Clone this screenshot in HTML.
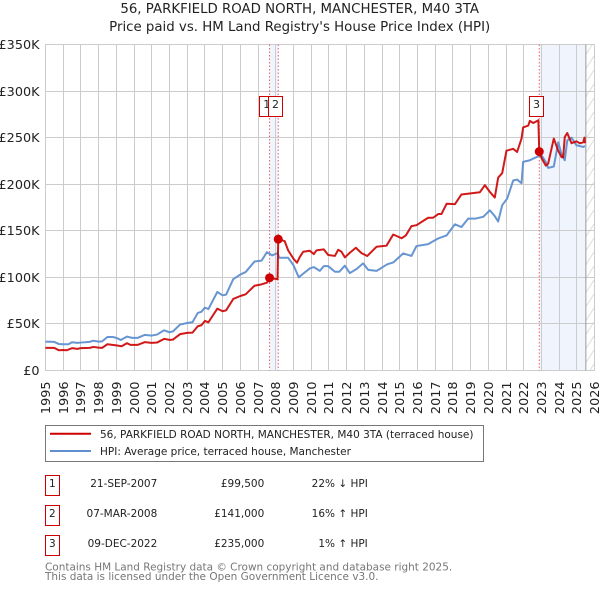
<!DOCTYPE html>
<html lang="en">
<head>
<meta charset="utf-8">
<title>56, Parkfield Road North price chart</title>
<style>
html,body{margin:0;padding:0;background:#fff;width:600px;height:590px;overflow:hidden}
svg{display:block}
text{font-family:"DejaVu Sans","Liberation Sans",sans-serif;fill:#222}
</style>
</head>
<body>
<svg id="chart" xmlns="http://www.w3.org/2000/svg" width="600" height="590" viewBox="0 0 600 590">
  <defs>
    <pattern id="hatch" patternUnits="userSpaceOnUse" width="9" height="14">
      <line x1="0" y1="14" x2="9" y2="0" stroke="#dcdcdc" stroke-width="1"/>
    </pattern>
  </defs>
  <text x="299.7" y="13" text-anchor="middle" font-size="13.33">56, PARKFIELD ROAD NORTH, MANCHESTER, M40 3TA</text>
  <text x="299.7" y="31" text-anchor="middle" font-size="13.33">Price paid vs. HM Land Registry's House Price Index (HPI)</text>
  <g id="plot"></g>

  <g>
    <rect x="45.5" y="425.5" width="438" height="36" fill="#fff" stroke="#777" stroke-width="1"/>
    <line x1="50" y1="433.7" x2="91" y2="433.7" stroke="#cc0000" stroke-width="2"/>
    <text x="100" y="438" font-size="10.5">56, PARKFIELD ROAD NORTH, MANCHESTER, M40 3TA (terraced house)</text>
    <line x1="50" y1="451" x2="91" y2="451" stroke="#5f8fd0" stroke-width="2"/>
    <text x="100" y="455" font-size="10.5">HPI: Average price, terraced house, Manchester</text>
  </g>

  <g font-size="10.5">
    <g>
      <rect x="45.5" y="475.5" width="14" height="20" fill="#fff" stroke="#cc0000"/>
      <text x="52.3" y="487" text-anchor="middle">1</text>
      <text x="157.3" y="487" text-anchor="end">21-SEP-2007</text>
      <text x="264.3" y="487" text-anchor="end">£99,500</text>
      <text x="367.8" y="487" text-anchor="end">22% ↓ HPI</text>
    </g>
    <g>
      <rect x="45.5" y="505.5" width="14" height="20" fill="#fff" stroke="#cc0000"/>
      <text x="52.3" y="517" text-anchor="middle">2</text>
      <text x="157.3" y="517" text-anchor="end">07-MAR-2008</text>
      <text x="264.3" y="517" text-anchor="end">£141,000</text>
      <text x="367.8" y="517" text-anchor="end">16% ↑ HPI</text>
    </g>
    <g>
      <rect x="45.5" y="535.5" width="14" height="20" fill="#fff" stroke="#cc0000"/>
      <text x="52.3" y="547" text-anchor="middle">3</text>
      <text x="157.3" y="547" text-anchor="end">09-DEC-2022</text>
      <text x="264.3" y="547" text-anchor="end">£235,000</text>
      <text x="367.8" y="547" text-anchor="end">1% ↑ HPI</text>
    </g>
  </g>

  <text x="45" y="570.5" font-size="10.48" style="fill:#777">Contains HM Land Registry data © Crown copyright and database right 2025.</text>
  <text x="45" y="580" font-size="10.48" style="fill:#777">This data is licensed under the Open Government Licence v3.0.</text>
</svg>
<script>
const yearTicks = [1995,1996,1997,1998,1999,2000,2001,2002,2003,2004,2005,2006,2007,2008,2009,2010,2011,2012,2013,2014,2015,2016,2017,2018,2019,2020,2021,2022,2023,2024,2025,2026];
const priceTicks = [0,50,100,150,200,250,300,350];
const priceTickLabels = ['£0','£50K','£100K','£150K','£200K','£250K','£300K','£350K'];
const priceDates = [1995,1995.5,1995.75,1996,1996.2,1996.5,1996.8,1997,1997.5,1997.7,1998,1998.2,1998.5,1999,1999.3,1999.6,1999.8,2000.2,2000.6,2001,2001.3,2001.7,2002,2002.2,2002.6,2003,2003.3,2003.6,2003.8,2004,2004.2,2004.7,2005,2005.2,2005.6,2006,2006.3,2006.8,2007.2,2007.5,2007.65,2008.1,2008.14,2008.5,2008.7,2009,2009.2,2009.36,2009.55,2009.92,2010.15,2010.3,2010.71,2010.96,2011.34,2011.52,2011.71,2011.9,2012.18,2012.52,2012.84,2013.16,2013.69,2014.25,2014.63,2015.1,2015.34,2015.66,2015.94,2016.6,2016.88,2017.17,2017.35,2017.64,2018.11,2018.48,2018.95,2019.52,2019.8,2020.08,2020.36,2020.55,2020.78,2021.02,2021.4,2021.62,2021.87,2021.96,2022.25,2022.34,2022.53,2022.82,2022.87,2023,2023.24,2023.37,2023.69,2023.94,2024.13,2024.22,2024.31,2024.45,2024.69,2024.97,2025.16,2025.35,2025.42,2025.45];
const priceValues = [24.3,24.3,21.8,22,21.7,24,23.2,24,24.3,25.3,24.6,24.3,28.2,27,26,29.3,27.5,27.5,30.4,29.6,30,34,32.9,33.2,39,40.4,40.7,47.5,48.6,53.2,51.8,66.4,63.6,64.6,76.8,80,81.8,91,92.5,94.3,99.5,98,141,139,129,120,115.7,122,127.5,128.6,125,129,130,124,123,129.6,127.5,121.4,126.4,131.8,126,122.9,132.9,134,146,142,145,155,156,164,164,168,168,179,178.6,189,190,191.4,199,191.8,185.7,207,212,236,238,234.6,249,261,263,268,265.7,268.6,235,228,220,222,249,236,229,229,250.7,255,244,246,244,245,250,244];
const hpiDates = [1995,1995.5,1995.75,1996,1996.3,1996.5,1996.8,1997,1997.5,1997.7,1998,1998.2,1998.5,1998.8,1999,1999.25,1999.6,1999.9,2000.2,2000.6,2001,2001.3,2001.7,2002,2002.2,2002.6,2003,2003.3,2003.6,2003.8,2004,2004.2,2004.7,2005,2005.2,2005.6,2006,2006.3,2006.8,2007.2,2007.5,2007.8,2008.1,2008.2,2008.7,2009,2009.3,2009.55,2009.92,2010.15,2010.49,2010.71,2010.96,2011.34,2011.58,2011.9,2012.18,2012.56,2012.93,2013.22,2013.69,2014.29,2014.63,2015.19,2015.66,2015.94,2016.6,2017.17,2017.64,2018.11,2018.48,2018.86,2019.24,2019.71,2020.08,2020.36,2020.55,2020.78,2021.06,2021.4,2021.62,2021.87,2021.96,2022.34,2022.53,2022.83,2023,2023.24,2023.37,2023.69,2023.94,2024.13,2024.31,2024.45,2024.69,2024.97,2025.35,2025.45];
const hpiValues = [31,30.7,28.5,28.2,28.2,30.3,29.6,30,30.7,32,31,31.3,36,36,35,32.8,36.4,35,35,38.2,37.5,38.6,43.2,41,42,49.3,51,51.8,61.8,63,67.5,66,84.3,80.7,81.5,98,103,105.7,117,118,127,123.6,126,121,121,113,100,104,109.6,111,107,112,112,106,106,112.5,104.6,109,115,108,107,114,116,125.7,123,133.6,135.7,141.8,145,157,154,163,163,165,172,165.7,160,177.5,184.6,204,205,201,224,225.7,227.5,230,231,224,217.5,219,245,232,225.7,247,250,241.8,240,241,240];
const saleDates = [2007.65,2008.14,2022.87];
const salePrices = [99.5,141,235];
const saleLabels = ['1','2','3'];
const dataEndYear = 2025.5;

const NS = 'http://www.w3.org/2000/svg';
const plot = document.getElementById('plot');
const xLeft = 45.4, xPerYear = 17.72, yBase = 370.5, yPerK = 326 / 350;
const xScale = function (year) { return xLeft + (year - 1995) * xPerYear; };
const yScale = function (k) { return yBase - k * yPerK; };
const yTop = yScale(350), xRight = xScale(2026);

function add(tag, props, parent) {
  const el = document.createElementNS(NS, tag);
  for (const key in props) el.setAttribute(key, props[key]);
  (parent || plot).appendChild(el);
  return el;
}
function linePath(xs, ys) {
  return xs.map(function (v, i) { return (i ? 'L' : 'M') + xScale(v).toFixed(2) + ' ' + yScale(ys[i]).toFixed(2); }).join('');
}

let el;
el = add('rect', { x: xScale(saleDates[0]), y: yTop, width: xScale(saleDates[1]) - xScale(saleDates[0]), height: yBase - yTop, fill: '#f0f5fd' });


el = add('rect', { x: xScale(saleDates[2]), y: yTop, width: xScale(dataEndYear) - xScale(saleDates[2]), height: yBase - yTop, fill: '#f0f5fd' });


el = add('rect', { x: xScale(dataEndYear), y: yTop, width: xRight - xScale(dataEndYear), height: yBase - yTop, fill: 'url(#hatch)' });



yearTicks.forEach(function (yr) {
  const px = Math.round(xScale(yr) - 0.5) + 0.5;
  const g = add('line', { x1: px, x2: px, y1: yTop, y2: yBase, stroke: '#cccccc', 'stroke-width': 1 });
  
  
  const t = add('text', { transform: 'translate(' + (px + 4.5) + ',' + 381.5 + ') rotate(-90)', 'text-anchor': 'end', 'font-size': 12.8 });
  t.textContent = yr;
  
  
});
priceTicks.forEach(function (k, i) {
  const py = Math.round(yScale(k) - 0.5) + 0.5;
  const g = add('line', { x1: 45, x2: xRight, y1: py, y2: py, stroke: '#cccccc', 'stroke-width': 1 });
  
  
  const t = add('text', { x: 39.5, y: py + 4.5, 'text-anchor': 'end', 'font-size': 12.8 });
  t.textContent = priceTickLabels[i];
  
  
});

el = add('line', { x1: xScale(dataEndYear), x2: xScale(dataEndYear), y1: yTop, y2: yBase, stroke: '#999999', 'stroke-width': 1 });



saleDates.forEach(function (d) {
  const line = add('line', { x1: xScale(d), x2: xScale(d), y1: yTop, y2: yBase, stroke: '#f2606a', 'stroke-width': 1, 'stroke-dasharray': '1.5 2' });
  
  
});

el = add('path', { d: linePath(hpiDates, hpiValues), fill: 'none', stroke: '#5f8fd0', 'stroke-width': 2, 'stroke-linejoin': 'round', 'stroke-opacity': 0.95 });


el = add('path', { d: linePath(priceDates, priceValues), fill: 'none', stroke: '#cc0000', 'stroke-width': 2, 'stroke-linejoin': 'round', 'stroke-opacity': 0.9 });



saleDates.forEach(function (d, i) {
  const m = add('circle', { cx: xScale(d), cy: yScale(salePrices[i]), r: 4.5, fill: '#cc0000' });
  
  
  const box = add('rect', { x: Math.floor(xScale(d) - 9.8) + 0.5, y: 96.5, width: 14, height: 20, fill: '#fff', stroke: '#cc0000', 'stroke-width': 1 });
  
  
  const t = add('text', { x: xScale(d) - 2.8, y: 108, 'text-anchor': 'middle', 'font-size': 11 });
  t.textContent = saleLabels[i];
  
  
});
</script>
</body>
</html>
